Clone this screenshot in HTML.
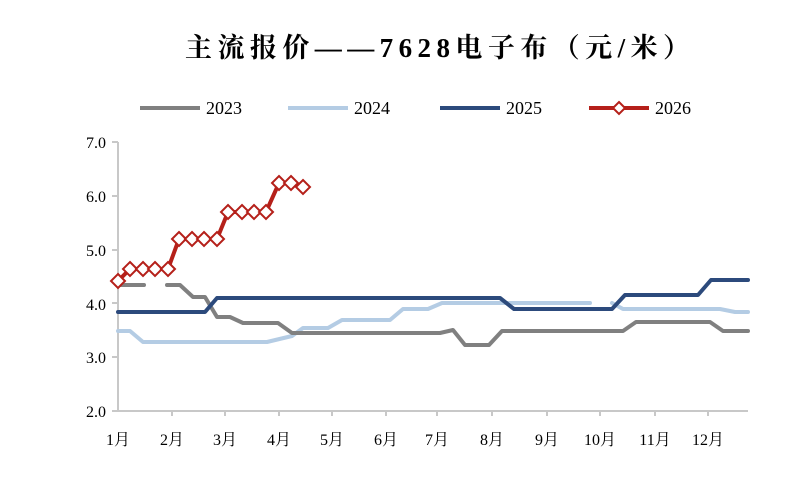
<!DOCTYPE html>
<html><head><meta charset="utf-8"><style>
body{margin:0;background:#fff;}
svg text{font-family:"Liberation Serif","Noto Serif CJK SC",serif;}
</style></head><body>
<svg width="793" height="472" xmlns="http://www.w3.org/2000/svg">
<text x="185" y="57" font-size="27" font-weight="bold" fill="#000" textLength="505" lengthAdjust="spacing">主流报价——7628电子布（元/米）</text>
<g stroke-width="4" fill="none">
<line x1="140" y1="108" x2="200" y2="108" stroke="#808080"/>
<line x1="288" y1="108" x2="348" y2="108" stroke="#b4cce4"/>
<line x1="440" y1="108" x2="500" y2="108" stroke="#2c4a7c"/>
<line x1="589" y1="108" x2="649" y2="108" stroke="#b5201a"/>
</g>
<path d="M619 102 L625 108 L619 114 L613 108 Z" fill="#fff" stroke="#b5201a" stroke-width="2"/>
<g font-size="18" fill="#000">
<text x="206" y="114">2023</text><text x="354" y="114">2024</text><text x="506" y="114">2025</text><text x="655" y="114">2026</text>
</g>
<g font-size="16" fill="#000" text-anchor="end">
<text x="106" y="148">7.0</text><text x="106" y="202">6.0</text><text x="106" y="256">5.0</text><text x="106" y="310">4.0</text><text x="106" y="363">3.0</text><text x="106" y="417">2.0</text>
</g>
<g stroke="#c8c8c8" stroke-width="2">
<line x1="118" y1="142" x2="118" y2="411"/>
<line x1="118" y1="411" x2="748" y2="411"/>
<line x1="112" y1="142" x2="118" y2="142"/><line x1="112" y1="196" x2="118" y2="196"/><line x1="112" y1="250" x2="118" y2="250"/><line x1="112" y1="303" x2="118" y2="303"/><line x1="112" y1="357" x2="118" y2="357"/><line x1="112" y1="411" x2="118" y2="411"/>
<line x1="172" y1="411" x2="172" y2="416"/><line x1="225" y1="411" x2="225" y2="416"/><line x1="279" y1="411" x2="279" y2="416"/><line x1="332" y1="411" x2="332" y2="416"/><line x1="386" y1="411" x2="386" y2="416"/><line x1="437" y1="411" x2="437" y2="416"/><line x1="492" y1="411" x2="492" y2="416"/><line x1="547" y1="411" x2="547" y2="416"/><line x1="600" y1="411" x2="600" y2="416"/><line x1="655" y1="411" x2="655" y2="416"/><line x1="708" y1="411" x2="708" y2="416"/>
</g>
<g font-size="16" fill="#000" text-anchor="middle">
<text x="118" y="445">1月</text><text x="172" y="445">2月</text><text x="225" y="445">3月</text><text x="279" y="445">4月</text><text x="332" y="445">5月</text><text x="386" y="445">6月</text><text x="437" y="445">7月</text><text x="492" y="445">8月</text><text x="547" y="445">9月</text><text x="600" y="445">10月</text><text x="655" y="445">11月</text><text x="708" y="445">12月</text>
</g>
<g fill="none" stroke-width="4" stroke-linejoin="round" stroke-linecap="round">
<polyline stroke="#b4cce4" points="118,331 130,331 143,342 267,342 292,336 303,328 328,328 342,320 390,320 403,309 428,309 442,303 590,303"/>
<polyline stroke="#b4cce4" points="612,303 623,309 720,309 735,312 748,312"/>
<polyline stroke="#808080" points="118,285 144,285"/>
<polyline stroke="#808080" points="167,285 180,285 193,297 205,297 217,317 230,317 243,323 278,323 292,333 440,333 453,330 465,345 489,345 502,331 623,331 636,322 710,322 723,331 748,331"/>
<polyline stroke="#2c4a7c" points="118,312 205,312 217,298 500,298 514,309 612,309 625,295 698,295 711,280 748,280"/>
<polyline stroke="#b5201a" points="118,281 130,269 168,269 179,239 217,239 228,212 266,212 279,183 291,183 303,187"/>
</g>
<g fill="#fff" stroke="#b5201a" stroke-width="2">
<path d="M118 274l7 7-7 7-7-7z"/><path d="M130 262l7 7-7 7-7-7z"/><path d="M143 262l7 7-7 7-7-7z"/><path d="M155 262l7 7-7 7-7-7z"/><path d="M168 262l7 7-7 7-7-7z"/>
<path d="M179 232l7 7-7 7-7-7z"/><path d="M192 232l7 7-7 7-7-7z"/><path d="M204 232l7 7-7 7-7-7z"/><path d="M217 232l7 7-7 7-7-7z"/>
<path d="M228 205l7 7-7 7-7-7z"/><path d="M242 205l7 7-7 7-7-7z"/><path d="M254 205l7 7-7 7-7-7z"/><path d="M266 205l7 7-7 7-7-7z"/>
<path d="M279 176l7 7-7 7-7-7z"/><path d="M291 176l7 7-7 7-7-7z"/><path d="M303 180l7 7-7 7-7-7z"/>
</g>
</svg>
</body></html>
